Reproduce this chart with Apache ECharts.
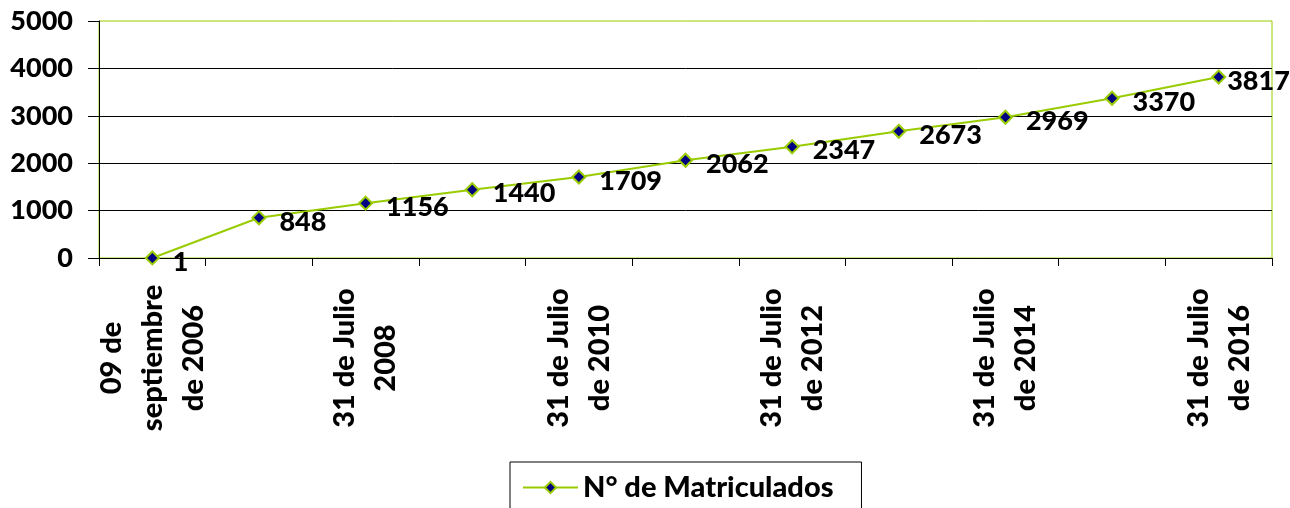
<!DOCTYPE html>
<html>
<head>
<meta charset="utf-8">
<title>N° de Matriculados</title>
<script src="https://cdn.jsdelivr.net/npm/echarts@6/dist/echarts.min.js"></script>
<style>
  html, body { margin: 0; padding: 0; background: #fff; }
  #chart { width: 1290px; height: 508px; }
</style>
</head>
<body>
<div id="chart"></div>
<script>
// fechas de corte (solo se ven una de cada dos)
const fechas = [
  '09 de\nseptiembre\nde 2006',
  '31 de Julio\nde 2007',
  '31 de Julio\n2008',
  '31 de Julio\nde 2009',
  '31 de Julio\nde 2010',
  '31 de Julio\nde 2011',
  '31 de Julio\nde 2012',
  '31 de Julio\nde 2013',
  '31 de Julio\nde 2014',
  '31 de Julio\nde 2015',
  '31 de Julio\nde 2016'
];
const matriculados = [1, 848, 1156, 1440, 1709, 2062, 2347, 2673, 2969, 3370, 3817];
const nombreSerie = 'N° de Matriculados';

const verde = '#99cc00';
const azul = '#000080';
const fuente = 'Lato, "Open Sans", sans-serif';
const peso = 900;

let myChart = echarts.init(document.getElementById('chart'));

// el ultimo rotulo va mas pegado al punto
let puntos = matriculados.map((v, i) => {
  if (i === matriculados.length - 1) {
    return { value: v, label: { distance: 1 } };
  }
  return v;
});

const option = {
  animation: false,
  backgroundColor: '#fff',
  grid: {
    left: 99,
    right: 18,
    top: 21,
    bottom: 250,
    outerBoundsMode: 'none',
    show: true,
    borderColor: verde,
    borderWidth: 1,
    backgroundColor: 'transparent'
  },
  legend: {
    left: 510,
    top: 462,
    padding: [11, 28, 13, 12],
    borderColor: '#000',
    borderWidth: 1,
    itemWidth: 55,
    itemHeight: 14,
    data: [nombreSerie],
    textStyle: {
      fontFamily: fuente,
      fontWeight: peso,
      fontSize: 29,
      color: '#000'
    }
  },
  xAxis: {
    type: 'category',
    data: fechas,
    boundaryGap: true,
    axisLine: { lineStyle: { color: '#000', width: 1 } },
    axisTick: { show: true, interval: 0, length: 8, lineStyle: { color: '#000' } },
    axisLabel: {
      interval: 1,
      rotate: 90,
      align: 'center',
      verticalAlign: 'middle',
      margin: 100,
      lineHeight: 41,
      fontFamily: fuente,
      fontWeight: peso,
      fontSize: 29,
      color: '#000'
    },
    splitLine: { show: false }
  },
  yAxis: {
    type: 'value',
    min: 0,
    max: 5000,
    interval: 1000,
    axisLine: { show: true, lineStyle: { color: '#000', width: 1 } },
    axisTick: { show: true, length: 11, lineStyle: { color: '#000' } },
    axisLabel: {
      margin: 26,
      formatter: (v) => String(v),
      fontFamily: fuente,
      fontWeight: peso,
      fontSize: 27,
      color: '#000'
    },
    splitLine: {
      show: true,
      showMaxLine: false,
      lineStyle: { color: '#000', width: 1 }
    }
  },
  series: [
    {
      name: nombreSerie,
      type: 'line',
      data: puntos,
      symbol: 'diamond',
      symbolSize: 13,
      lineStyle: { color: verde, width: 2 },
      itemStyle: { color: azul, borderColor: verde, borderWidth: 2 },
      label: {
        show: true,
        position: 'right',
        distance: 13,
        offset: [0, 4],
        fontFamily: fuente,
        fontWeight: peso,
        fontSize: 27,
        color: '#000'
      }
    }
  ]
};

myChart.setOption(option);
</script>
</body>
</html>
